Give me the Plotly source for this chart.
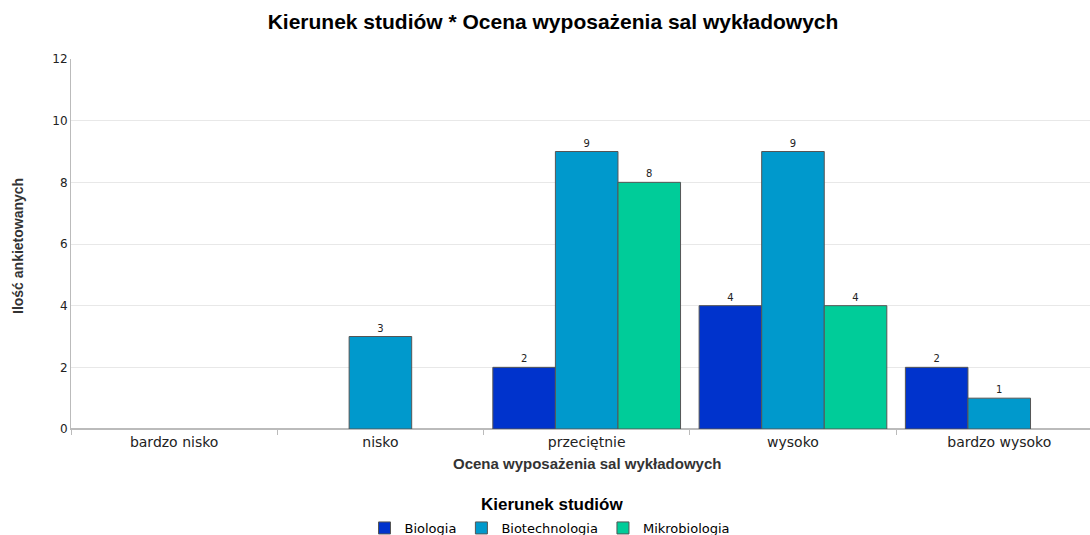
import plotly.graph_objects as go

categories = ["bardzo nisko", "nisko", "przeciętnie", "wysoko", "bardzo wysoko"]
biologia = [None, None, 2, 4, 2]
biotechnologia = [None, 3, 9, 9, 1]
mikrobiologia = [None, None, 8, 4, None]
series = [("Biologia", biologia, "#0033CC"),
          ("Biotechnologia", biotechnologia, "#0099CC"),
          ("Mikrobiologia", mikrobiologia, "#00CC99")]
y_ticks = [0, 2, 4, 6, 8, 10, 12]

W, H = 1090, 535
L, R, T, B = 71, 0, 59, 106
PW, PH = W - L - R, H - T - B

def px_x(x):
    return (x - L) / PW

def px_y(y):
    return (H - B - y) / PH

fig = go.Figure()
for name, vals, color in series:
    fig.add_trace(go.Bar(
        x=categories, y=vals, name=name,
        marker=dict(color=color, line=dict(color="#555555", width=1)),
        text=[("" if v is None else str(v)) for v in vals],
        textposition="outside", cliponaxis=False,
        textfont=dict(family="DejaVu Sans", size=10, color="#222222"),
    ))

fig.update_layout(
    width=W, height=H,
    paper_bgcolor="white", plot_bgcolor="white",
    margin=dict(l=L, r=R, t=T, b=B, autoexpand=False),
    barmode="group", bargap=0.09, bargroupgap=0,
    title=dict(text="<b>Kierunek studiów * Ocena wyposażenia sal wykładowych</b>",
               x=553 / W, xanchor="center", y=1 - 22 / H, yanchor="middle",
               xref="container", yref="container",
               font=dict(family="Liberation Sans", size=21, color="#000000")),
    showlegend=True,
    legend=dict(orientation="h", x=px_x(550), xanchor="center", y=px_y(513), yanchor="top",
                font=dict(family="DejaVu Sans", size=13, color="#000000"),
                itemwidth=30, tracegroupgap=0),
    font=dict(family="DejaVu Sans", size=11, color="#222222"),
)
fig.update_xaxes(
    range=[-0.5, 4.44], showgrid=False, showline=True, linecolor="#bbbbbb",
    ticks="outside", tickson="boundaries", ticklen=5, tickcolor="#bbbbbb",
    tickfont=dict(family="DejaVu Sans", size=14, color="#222222"), automargin=False,
)
fig.update_yaxes(
    range=[0, 12], tickvals=y_ticks, showgrid=True, gridcolor="#e8e8e8",
    showline=True, linecolor="#bbbbbb", zeroline=True, zerolinecolor="#bbbbbb",
    ticks="", tickfont=dict(family="DejaVu Sans", size=12, color="#222222"), automargin=False,
)
fig.add_annotation(text="<b>Ilość ankietowanych</b>", xref="paper", yref="paper",
                   x=px_x(18), y=px_y(246), xanchor="center", yanchor="middle", textangle=-90,
                   showarrow=False,
                   font=dict(family="Liberation Sans", size=14, color="#333333"))
fig.add_annotation(text="<b>Ocena wyposażenia sal wykładowych</b>", xref="paper", yref="paper",
                   x=px_x(587), y=px_y(463), xanchor="center", yanchor="middle", showarrow=False,
                   font=dict(family="Liberation Sans", size=15, color="#333333"))
fig.add_annotation(text="<b>Kierunek studiów</b>", xref="paper", yref="paper",
                   x=px_x(552), y=px_y(504), xanchor="center", yanchor="middle", showarrow=False,
                   font=dict(family="Liberation Sans", size=17, color="#000000"))

fig.write_html("out.html", config={"displayModeBar": False},
               post_script="document.body.style.margin='0';document.body.style.padding='0';")
